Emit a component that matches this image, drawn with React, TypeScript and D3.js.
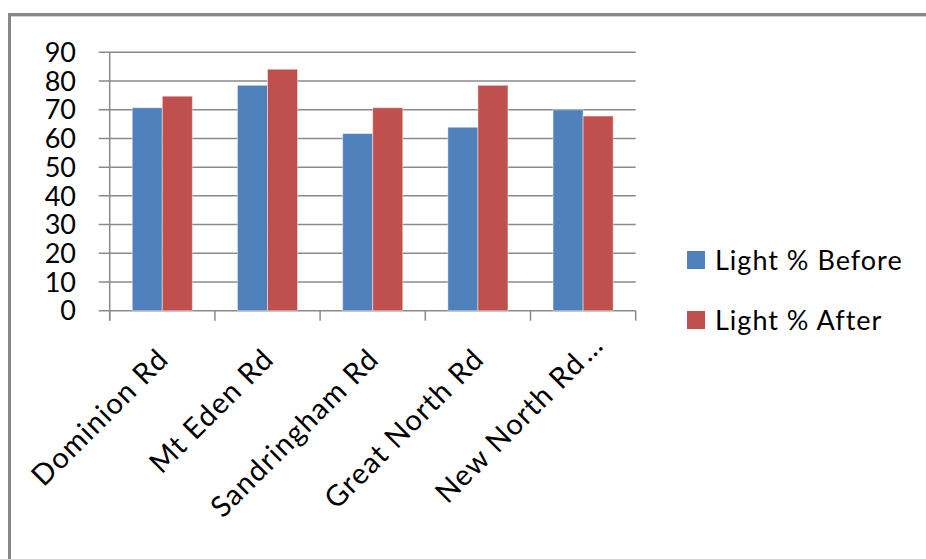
import React from "react";
import * as d3 from "d3";

// Street names along the category axis
const categories = ["Dominion Rd", "Mt Eden Rd", "Sandringham Rd", "Great North Rd", "New North Rd…"];
// Light percentage readings per street
const lightBefore = [70.7, 78.5, 61.7, 63.9, 70.0];
const lightAfter = [74.7, 84.1, 70.7, 78.5, 67.8];
const seriesNames = ["Light % Before", "Light % After"];
const seriesColors = ["#4F81BD", "#C0504D"];
const yTicks = [0, 10, 20, 30, 40, 50, 60, 70, 80, 90];

const W = 926;
const H = 559;
const FONT = "Lato, 'Open Sans', sans-serif";

export default function App() {
  const plotLeft = 109.7;
  const plotRight = 635.7;
  const plotTop = 52.3;
  const plotBottom = 310.7;

  const x = d3.scaleBand<string>().domain(categories).range([plotLeft, plotRight]).paddingInner(0).paddingOuter(0);
  const xSub = d3
    .scaleBand<number>()
    .domain([0, 1])
    .range([0, x.bandwidth()])
    .paddingInner(0)
    .paddingOuter(0.75);
  const y = d3.scaleLinear().domain([0, 90]).range([plotBottom, plotTop]);

  const series = [lightBefore, lightAfter];
  const tickEdges = [...categories.map((c) => x(c) as number), plotRight];

  return (
    <svg
      width={W}
      height={H}
      style={{ position: "absolute", left: 0, top: 0, background: "#fff" }}
      fontFamily={FONT}
    >
      <rect x={0} y={0} width={W} height={H} fill="#fff" />
      {/* chart area frame */}
      <rect x={9.5} y={14.5} width={W + 20} height={H + 20} fill="none" stroke="#878787" strokeWidth={3} />
      <line x1={11} x2={W} y1={16.5} y2={16.5} stroke="#d0d0d0" strokeWidth={1} />

      {/* horizontal gridlines with ticks */}
      {yTicks.map((t) => (
        <line
          key={"g" + t}
          x1={plotLeft - 11}
          x2={plotRight}
          y1={y(t)}
          y2={y(t)}
          stroke="#8a8a8a"
          strokeWidth={1.5}
        />
      ))}
      {/* value axis */}
      <line x1={plotLeft} x2={plotLeft} y1={plotTop} y2={plotBottom + 10} stroke="#8a8a8a" strokeWidth={1.5} />
      {tickEdges.map((tx, i) => (
        <line key={"t" + i} x1={tx} x2={tx} y1={plotBottom} y2={plotBottom + 10} stroke="#8a8a8a" strokeWidth={1.5} />
      ))}

      {/* bars */}
      {categories.map((c, i) => (
        <g key={c} transform={`translate(${x(c)},0)`}>
          {series.map((vals, s) => (
            <rect
              key={s}
              x={xSub(s)}
              y={y(vals[i])}
              width={xSub.bandwidth()}
              height={y(0) - y(vals[i])}
              fill={seriesColors[s]}
              stroke="rgba(255,255,255,0.45)"
              strokeWidth={1}
            />
          ))}
        </g>
      ))}

      {/* y tick labels */}
      {yTicks.map((t) => (
        <text
          key={"l" + t}
          x={76}
          y={y(t)}
          dy="0.36em"
          textAnchor="end"
          fontSize={27}
          fill="#000"
        >
          {t}
        </text>
      ))}

      {/* category labels; a truncated name keeps its trailing ellipsis past the anchor */}
      {categories.map((c) => {
        const cx = (x(c) as number) + x.bandwidth() / 2;
        const trail = c.endsWith("…") ? "…" : "";
        const main = trail ? c.slice(0, -1) : c;
        return (
          <g key={"c" + c} transform={`translate(${cx + 8},${361}) rotate(-45)`}>
            <text x={trail ? -6 : 0} textAnchor="end" fontSize={29} letterSpacing={1.2} fill="#000">
              {main}
            </text>
            {trail && (
              <text x={-3} textAnchor="start" fontSize={29} letterSpacing={1.2} fill="#000">
                {trail}
              </text>
            )}
          </g>
        );
      })}

      {/* legend */}
      {seriesNames.map((n, i) => (
        <g key={n} transform={`translate(687,${251 + i * 60})`}>
          <rect x={0} y={0} width={18} height={18} fill={seriesColors[i]} />
          <text x={28} y={19} fontSize={27} letterSpacing={1} fill="#000">
            {n}
          </text>
        </g>
      ))}
    </svg>
  );
}
